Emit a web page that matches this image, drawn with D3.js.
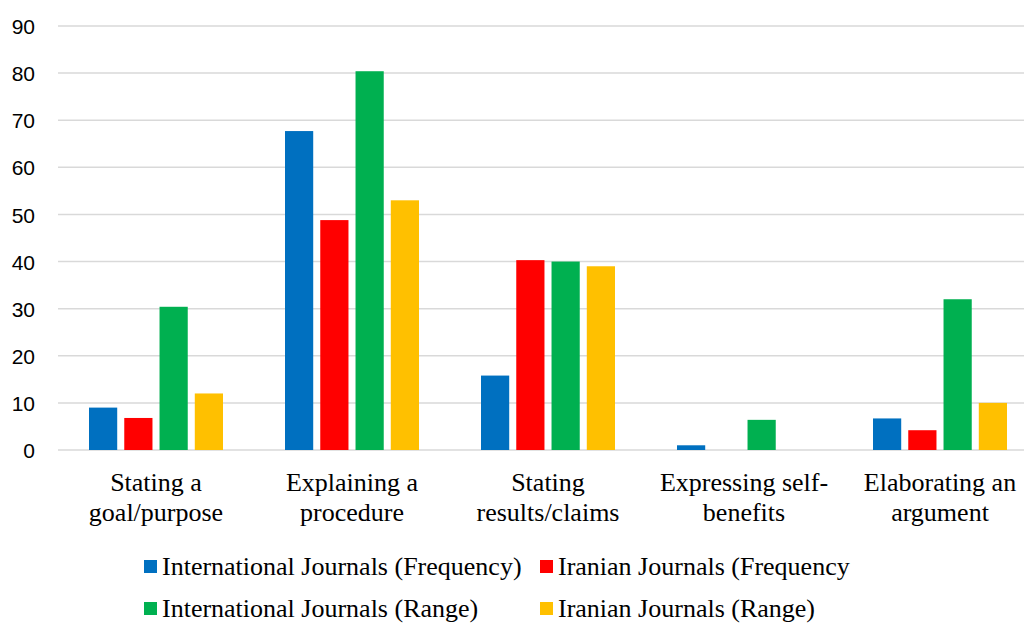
<!DOCTYPE html>
<html>
<head>
<meta charset="utf-8">
<script src="https://cdn.jsdelivr.net/npm/d3@7/dist/d3.min.js"></script>
<style>
  html, body { margin: 0; padding: 0; background: #fff; }
  svg { display: block; }
</style>
</head>
<body>
<svg id="chart" width="1024" height="624"></svg>
<script>
// Move categories (each label split over two lines)
const categories = [
  ["Stating a", "goal/purpose"],
  ["Explaining a", "procedure"],
  ["Stating", "results/claims"],
  ["Expressing self-", "benefits"],
  ["Elaborating an", "argument"]
];

const seriesNames = [
  "International Journals (Frequency)",
  "Iranian Journals (Frequency",
  "International Journals (Range)",
  "Iranian Journals (Range)"
];

const intlFrequency = [9, 67.7, 15.8, 1, 6.7];
const iranFrequency = [6.8, 48.8, 40.3, 0, 4.2];
const intlRange     = [30.4, 80.4, 40, 6.4, 32];
const iranRange     = [12, 53, 39, 0, 10];

const yTicks = [0, 10, 20, 30, 40, 50, 60, 70, 80, 90];

const colors = ["#0070C0", "#FF0000", "#00B050", "#FFC000"];

const seriesValues = [intlFrequency, iranFrequency, intlRange, iranRange];

const svg = d3.select("#chart");

const plot = { left: 58, right: 1038, top: 26, bottom: 450 };

const catKeys = categories.map(c => c.join(" "));

const x0 = d3.scaleBand()
  .domain(catKeys)
  .range([plot.left, plot.right])
  .padding(0);

const x1 = d3.scaleBand()
  .domain(d3.range(seriesNames.length))
  .range([31, x0.bandwidth() - 31])
  .paddingInner(0.2);

const y = d3.scaleLinear()
  .domain([0, 90])
  .range([plot.bottom, plot.top]);

// Horizontal gridlines
svg.append("g")
  .selectAll("line")
  .data(yTicks)
  .join("line")
  .attr("x1", plot.left)
  .attr("x2", plot.right)
  .attr("y1", d => y(d))
  .attr("y2", d => y(d))
  .attr("stroke", "#d9d9d9")
  .attr("stroke-width", 1.5);

// Y axis labels
const yAxis = d3.axisLeft(y).tickValues(yTicks).tickSize(0).tickPadding(0);
const yg = svg.append("g")
  .attr("transform", "translate(35,0)")
  .call(yAxis);
yg.select(".domain").remove();
yg.selectAll("text")
  .attr("font-family", "'Liberation Sans', Arial, sans-serif")
  .attr("font-size", 21)
  .attr("fill", "#000")
  .attr("dy", "0.36em");

// Bars
const groups = svg.append("g")
  .selectAll("g")
  .data(catKeys)
  .join("g")
  .attr("transform", d => `translate(${x0(d)},0)`);

groups.selectAll("rect")
  .data((d, ci) => seriesValues.map((vals, si) => ({ si, v: vals[ci] })))
  .join("rect")
  .attr("x", d => x1(d.si))
  .attr("width", x1.bandwidth())
  .attr("y", d => y(d.v))
  .attr("height", d => y(0) - y(d.v))
  .attr("fill", d => colors[d.si]);

// Category labels
const labelFont = "'Liberation Serif', 'Times New Roman', serif";
const cats = svg.append("g")
  .selectAll("text")
  .data(categories)
  .join("text")
  .attr("x", (d, i) => x0(catKeys[i]) + x0.bandwidth() / 2)
  .attr("y", 491)
  .attr("text-anchor", "middle")
  .attr("font-family", labelFont)
  .attr("font-size", 26)
  .attr("fill", "#000");
cats.selectAll("tspan")
  .data(d => d)
  .join("tspan")
  .attr("x", function () { return d3.select(this.parentNode).attr("x"); })
  .attr("dy", (d, i) => i === 0 ? 0 : 30)
  .text(d => d);

// Legend (two rows, two columns)
const legendPos = [
  { x: 144, y: 575 },
  { x: 540, y: 575 },
  { x: 144, y: 617 },
  { x: 540, y: 617 }
];
const legend = svg.append("g")
  .selectAll("g")
  .data(seriesNames)
  .join("g")
  .attr("transform", (d, i) => `translate(${legendPos[i].x},${legendPos[i].y})`);
legend.append("rect")
  .attr("x", 0)
  .attr("y", -15)
  .attr("width", 13)
  .attr("height", 13)
  .attr("fill", (d, i) => colors[i]);
legend.append("text")
  .attr("x", 18)
  .attr("y", 0)
  .attr("font-family", labelFont)
  .attr("font-size", 26)
  .attr("fill", "#000")
  .text(d => d);
</script>
</body>
</html>
